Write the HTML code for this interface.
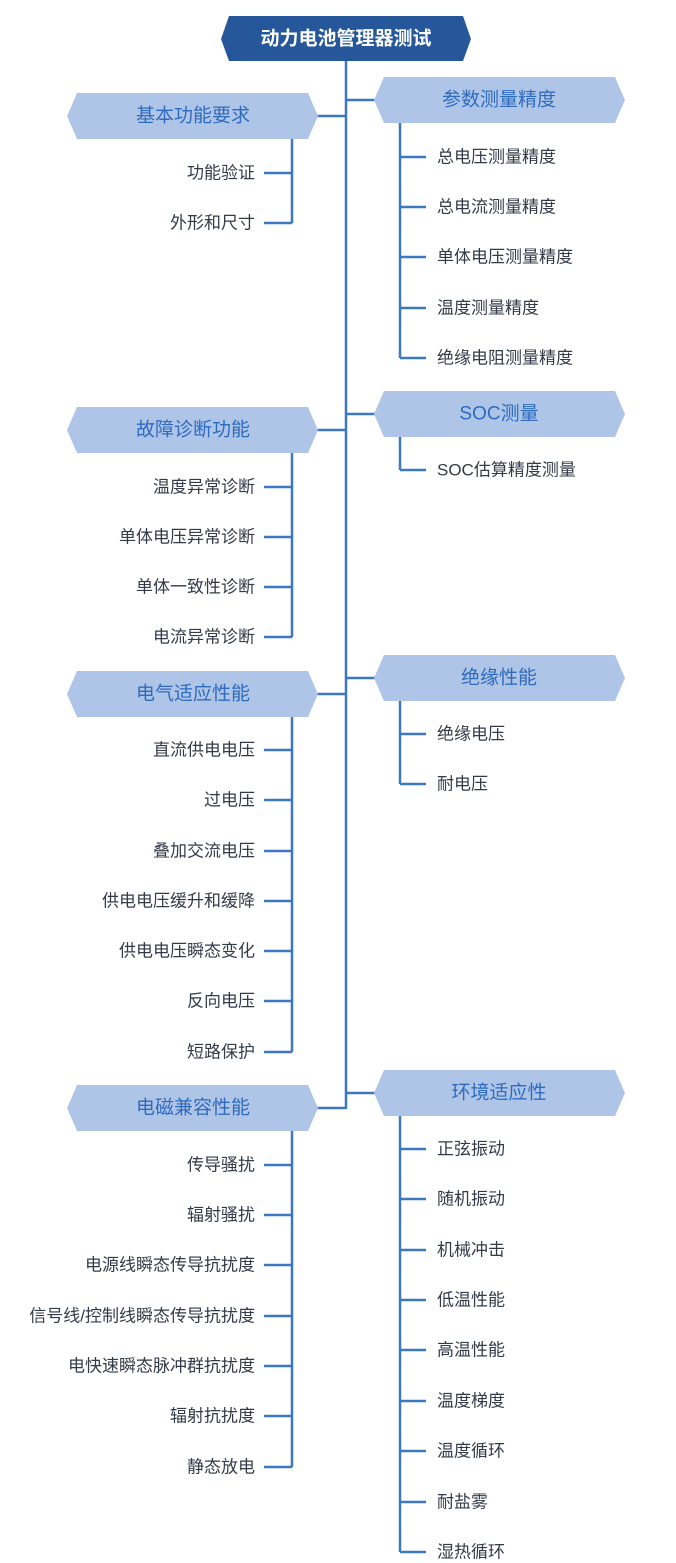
<!DOCTYPE html>
<html><head><meta charset="utf-8"><style>
html,body{margin:0;padding:0;background:#fff;}
svg{display:block;}
text{font-family:"Liberation Sans","Noto Sans CJK SC",sans-serif;}
.h{fill:#afc5e8;}
.ht{fill:#2e6bbd;font-size:19px;text-anchor:middle;dominant-baseline:central;}
.c{fill:#333a48;font-size:17px;dominant-baseline:central;}
.l{stroke:#3c78bf;stroke-width:2.5;fill:none;}
</style></head><body>
<svg width="676" height="1563" viewBox="0 0 676 1563" xmlns="http://www.w3.org/2000/svg">
<line class="l" x1="346" y1="61" x2="346" y2="1109"/>
<polygon points="229,16 463,16 471,39 463,61 229,61 221,39" fill="#26579b"/>
<text x="346" y="39" fill="#fff" font-size="19" font-weight="bold" text-anchor="middle" dominant-baseline="central">动力电池管理器测试</text>

<g>
<line class="l" x1="317" y1="116" x2="346" y2="116"/>
<polygon class="h" points="77,93 308,93 318,116 308,139 77,139 67,116"/>
<text class="ht" x="193" y="116">基本功能要求</text>
<line class="l" x1="292" y1="139" x2="292" y2="223"/>
<line class="l" x1="264" y1="173" x2="292" y2="173"/><text class="c" x="255" y="173" text-anchor="end">功能验证</text>
<line class="l" x1="264" y1="223" x2="292" y2="223"/><text class="c" x="255" y="223" text-anchor="end">外形和尺寸</text>
</g>
<g>
<line class="l" x1="317" y1="430" x2="346" y2="430"/>
<polygon class="h" points="77,407 308,407 318,430 308,453 77,453 67,430"/>
<text class="ht" x="193" y="430">故障诊断功能</text>
<line class="l" x1="292" y1="453" x2="292" y2="637"/>
<line class="l" x1="264" y1="487" x2="292" y2="487"/><text class="c" x="255" y="487" text-anchor="end">温度异常诊断</text>
<line class="l" x1="264" y1="537" x2="292" y2="537"/><text class="c" x="255" y="537" text-anchor="end">单体电压异常诊断</text>
<line class="l" x1="264" y1="587" x2="292" y2="587"/><text class="c" x="255" y="587" text-anchor="end">单体一致性诊断</text>
<line class="l" x1="264" y1="637" x2="292" y2="637"/><text class="c" x="255" y="637" text-anchor="end">电流异常诊断</text>
</g>
<g>
<line class="l" x1="317" y1="694" x2="346" y2="694"/>
<polygon class="h" points="77,671 308,671 318,694 308,717 77,717 67,694"/>
<text class="ht" x="193" y="694">电气适应性能</text>
<line class="l" x1="292" y1="717" x2="292" y2="1052"/>
<line class="l" x1="264" y1="750" x2="292" y2="750"/><text class="c" x="255" y="750" text-anchor="end">直流供电电压</text>
<line class="l" x1="264" y1="800" x2="292" y2="800"/><text class="c" x="255" y="800" text-anchor="end">过电压</text>
<line class="l" x1="264" y1="851" x2="292" y2="851"/><text class="c" x="255" y="851" text-anchor="end">叠加交流电压</text>
<line class="l" x1="264" y1="901" x2="292" y2="901"/><text class="c" x="255" y="901" text-anchor="end">供电电压缓升和缓降</text>
<line class="l" x1="264" y1="951" x2="292" y2="951"/><text class="c" x="255" y="951" text-anchor="end">供电电压瞬态变化</text>
<line class="l" x1="264" y1="1001" x2="292" y2="1001"/><text class="c" x="255" y="1001" text-anchor="end">反向电压</text>
<line class="l" x1="264" y1="1052" x2="292" y2="1052"/><text class="c" x="255" y="1052" text-anchor="end">短路保护</text>
</g>
<g>
<line class="l" x1="317" y1="1108" x2="346" y2="1108"/>
<polygon class="h" points="77,1085 308,1085 318,1108 308,1131 77,1131 67,1108"/>
<text class="ht" x="193" y="1108">电磁兼容性能</text>
<line class="l" x1="292" y1="1131" x2="292" y2="1467"/>
<line class="l" x1="264" y1="1165" x2="292" y2="1165"/><text class="c" x="255" y="1165" text-anchor="end">传导骚扰</text>
<line class="l" x1="264" y1="1215" x2="292" y2="1215"/><text class="c" x="255" y="1215" text-anchor="end">辐射骚扰</text>
<line class="l" x1="264" y1="1265" x2="292" y2="1265"/><text class="c" x="255" y="1265" text-anchor="end">电源线瞬态传导抗扰度</text>
<line class="l" x1="264" y1="1316" x2="292" y2="1316"/><text class="c" x="255" y="1316" text-anchor="end">信号线/控制线瞬态传导抗扰度</text>
<line class="l" x1="264" y1="1366" x2="292" y2="1366"/><text class="c" x="255" y="1366" text-anchor="end">电快速瞬态脉冲群抗扰度</text>
<line class="l" x1="264" y1="1416" x2="292" y2="1416"/><text class="c" x="255" y="1416" text-anchor="end">辐射抗扰度</text>
<line class="l" x1="264" y1="1467" x2="292" y2="1467"/><text class="c" x="255" y="1467" text-anchor="end">静态放电</text>
</g>

<g>
<line class="l" x1="346" y1="100" x2="375" y2="100"/>
<polygon class="h" points="384,77 615,77 625,100 615,123 384,123 374,100"/>
<text class="ht" x="499" y="100">参数测量精度</text>
<line class="l" x1="400" y1="123" x2="400" y2="358"/>
<line class="l" x1="400" y1="157" x2="426" y2="157"/><text class="c" x="437" y="157">总电压测量精度</text>
<line class="l" x1="400" y1="207" x2="426" y2="207"/><text class="c" x="437" y="207">总电流测量精度</text>
<line class="l" x1="400" y1="257" x2="426" y2="257"/><text class="c" x="437" y="257">单体电压测量精度</text>
<line class="l" x1="400" y1="308" x2="426" y2="308"/><text class="c" x="437" y="308">温度测量精度</text>
<line class="l" x1="400" y1="358" x2="426" y2="358"/><text class="c" x="437" y="358">绝缘电阻测量精度</text>
</g>
<g>
<line class="l" x1="346" y1="414" x2="375" y2="414"/>
<polygon class="h" points="384,391 615,391 625,414 615,437 384,437 374,414"/>
<text class="ht" x="499" y="414">SOC测量</text>
<line class="l" x1="400" y1="437" x2="400" y2="470"/>
<line class="l" x1="400" y1="470" x2="426" y2="470"/><text class="c" x="437" y="470">SOC估算精度测量</text>
</g>
<g>
<line class="l" x1="346" y1="678" x2="375" y2="678"/>
<polygon class="h" points="384,655 615,655 625,678 615,701 384,701 374,678"/>
<text class="ht" x="499" y="678">绝缘性能</text>
<line class="l" x1="400" y1="701" x2="400" y2="784"/>
<line class="l" x1="400" y1="734" x2="426" y2="734"/><text class="c" x="437" y="734">绝缘电压</text>
<line class="l" x1="400" y1="784" x2="426" y2="784"/><text class="c" x="437" y="784">耐电压</text>
</g>
<g>
<line class="l" x1="346" y1="1093" x2="375" y2="1093"/>
<polygon class="h" points="384,1070 615,1070 625,1093 615,1116 384,1116 374,1093"/>
<text class="ht" x="499" y="1093">环境适应性</text>
<line class="l" x1="400" y1="1116" x2="400" y2="1552"/>
<line class="l" x1="400" y1="1149" x2="426" y2="1149"/><text class="c" x="437" y="1149">正弦振动</text>
<line class="l" x1="400" y1="1199" x2="426" y2="1199"/><text class="c" x="437" y="1199">随机振动</text>
<line class="l" x1="400" y1="1250" x2="426" y2="1250"/><text class="c" x="437" y="1250">机械冲击</text>
<line class="l" x1="400" y1="1300" x2="426" y2="1300"/><text class="c" x="437" y="1300">低温性能</text>
<line class="l" x1="400" y1="1350" x2="426" y2="1350"/><text class="c" x="437" y="1350">高温性能</text>
<line class="l" x1="400" y1="1401" x2="426" y2="1401"/><text class="c" x="437" y="1401">温度梯度</text>
<line class="l" x1="400" y1="1451" x2="426" y2="1451"/><text class="c" x="437" y="1451">温度循环</text>
<line class="l" x1="400" y1="1502" x2="426" y2="1502"/><text class="c" x="437" y="1502">耐盐雾</text>
<line class="l" x1="400" y1="1552" x2="426" y2="1552"/><text class="c" x="437" y="1552">湿热循环</text>
</g>
</svg>
</body></html>
